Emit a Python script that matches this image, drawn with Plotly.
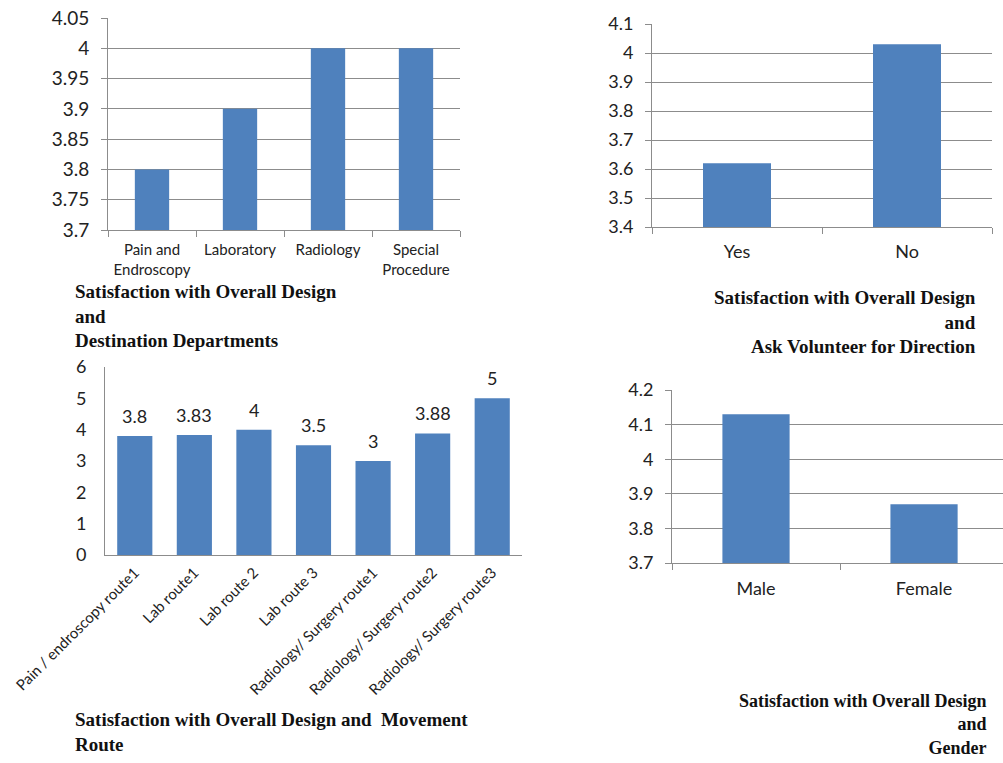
import plotly.graph_objects as go

# ---- data ----
dept_cats = ["Pain and<br>Endroscopy", "Laboratory", "Radiology", "Special<br>Procedure"]
dept_vals = [3.8, 3.9, 4.0, 4.0]
dept_ticks = [3.7, 3.75, 3.8, 3.85, 3.9, 3.95, 4.0, 4.05]
dept_ticktext = ["3.7", "3.75", "3.8", "3.85", "3.9", "3.95", "4", "4.05"]

vol_cats = ["Yes", "No"]
vol_vals = [3.62, 4.03]
vol_ticks = [3.4, 3.5, 3.6, 3.7, 3.8, 3.9, 4.0, 4.1]
vol_ticktext = ["3.4", "3.5", "3.6", "3.7", "3.8", "3.9", "4", "4.1"]

route_cats = ["Pain / endroscopy route1", "Lab route1", "Lab route 2", "Lab route 3",
              "Radiology/ Surgery route1", "Radiology/ Surgery route2", "Radiology/ Surgery route3"]
route_vals = [3.8, 3.83, 4, 3.5, 3, 3.88, 5]
route_labels = ["3.8", "3.83", "4", "3.5", "3", "3.88", "5"]
route_ticks = [0, 1, 2, 3, 4, 5, 6]

gender_cats = ["Male", "Female"]
gender_vals = [4.13, 3.87]
gender_ticks = [3.7, 3.8, 3.9, 4.0, 4.1, 4.2]
gender_ticktext = ["3.7", "3.8", "3.9", "4", "4.1", "4.2"]

title1 = ["Satisfaction with Overall Design", "and", "Destination Departments"]
title2 = ["Satisfaction with Overall Design", "and", "Ask Volunteer for Direction"]
title3 = ["Satisfaction with Overall Design and  Movement", "Route"]
title4 = ["Satisfaction with Overall Design", "and", "Gender"]

BAR = "#4F81BD"
GRID = "#8c8c8c"
AX = "#8c8c8c"
TICKFONT = "Lato"
SERIF = "Liberation Serif"
TXT = "#222"
W, H = 1003, 763

def px_x(p):
    return p / W

def px_y(p):
    return 1 - p / H

fig = go.Figure()

fig.add_trace(go.Bar(x=dept_cats, y=dept_vals, marker_color=BAR, width=0.39,
                     xaxis="x", yaxis="y", showlegend=False))
fig.add_trace(go.Bar(x=vol_cats, y=vol_vals, marker_color=BAR, width=0.4,
                     xaxis="x2", yaxis="y2", showlegend=False))
fig.add_trace(go.Bar(x=route_cats, y=route_vals, marker_color=BAR, width=0.59,
                     xaxis="x3", yaxis="y3", showlegend=False))
fig.add_trace(go.Bar(x=gender_cats, y=gender_vals, marker_color=BAR, width=0.4,
                     xaxis="x4", yaxis="y4", showlegend=False))

# data labels for the route chart, placed through the axes
for c, v, t in zip(route_cats, route_vals, route_labels):
    fig.add_annotation(xref="x3", yref="y3", x=c, y=v, text=t, showarrow=False,
                       yanchor="middle", yshift=20,
                       font=dict(family=TICKFONT, size=18, color=TXT))

common_x = dict(type="category", showline=True, linecolor=AX, linewidth=1,
                showgrid=False, zeroline=False, fixedrange=True, automargin=False)
common_y = dict(showline=True, linecolor=AX, linewidth=1, showgrid=True,
                gridcolor=GRID, gridwidth=1, zeroline=False, ticks="outside",
                ticklen=6, tickcolor=AX, fixedrange=True, automargin=False,
                ticklabelstandoff=8)

fig.update_layout(
    template="none",
    width=W, height=H,
    margin=dict(l=0, r=0, t=0, b=0, autoexpand=False),
    paper_bgcolor="white", plot_bgcolor="white",
    font=dict(family=TICKFONT, color=TXT),
    xaxis=dict(common_x, domain=[px_x(108), px_x(460)], anchor="y",
               ticks="outside", tickson="boundaries", ticklen=6, tickcolor=AX,
               ticklabelstandoff=6,
               tickfont=dict(size=15, color=TXT), range=[-0.5, 3.5]),
    yaxis=dict(common_y, domain=[px_y(230), px_y(18)], anchor="x",
               range=[3.7, 4.05], tickvals=dept_ticks, ticktext=dept_ticktext,
               tickfont=dict(size=19, color=TXT)),
    xaxis2=dict(common_x, domain=[px_x(652), px_x(992)], anchor="y2",
                ticks="outside", tickson="boundaries", ticklen=6, tickcolor=AX,
                ticklabelstandoff=8,
                tickfont=dict(size=18, color=TXT), range=[-0.5, 1.5]),
    yaxis2=dict(common_y, domain=[px_y(227), px_y(24)], anchor="x2",
                range=[3.4, 4.1], tickvals=vol_ticks, ticktext=vol_ticktext,
                tickfont=dict(size=18, color=TXT)),
    xaxis3=dict(common_x, domain=[px_x(105), px_x(522)], anchor="y3",
                ticks="", tickangle=-45, tickfont=dict(size=15, color=TXT),
                ticklabelstandoff=2, range=[-0.5, 6.5]),
    yaxis3=dict(showline=True, linecolor=AX, linewidth=1, showgrid=False,
                zeroline=False, ticks="", fixedrange=True, automargin=False,
                ticklabelstandoff=14,
                domain=[px_y(555), px_y(367)], anchor="x3",
                range=[0, 6], tickvals=route_ticks,
                tickfont=dict(size=18, color=TXT)),
    xaxis4=dict(common_x, domain=[px_x(672), 1.0], anchor="y4",
                ticks="outside", tickson="boundaries", ticklen=6, tickcolor=AX,
                ticklabelstandoff=9,
                tickfont=dict(size=18, color=TXT), range=[-0.5, 1.47]),
    yaxis4=dict(common_y, domain=[px_y(563), px_y(390)], anchor="x4",
                range=[3.7, 4.2], tickvals=gender_ticks, ticktext=gender_ticktext,
                tickfont=dict(size=18, color=TXT)),
)

def add_title(lines, x_px, y_center_px, anchor, size=19):
    fig.add_annotation(xref="paper", yref="paper", x=px_x(x_px), y=px_y(y_center_px),
                       xanchor=anchor, yanchor="middle", align=anchor, showarrow=False,
                       text="<br>".join("<b>" + s + "</b>" for s in lines),
                       font=dict(family=SERIF, size=size, color="#111"))

add_title(title1, 73, 316, "left")
add_title(title2, 978, 322, "right")
add_title(title3, 73, 732, "left")
add_title(title4, 989, 724, "right", size=18)

fig.write_html("out.html")
